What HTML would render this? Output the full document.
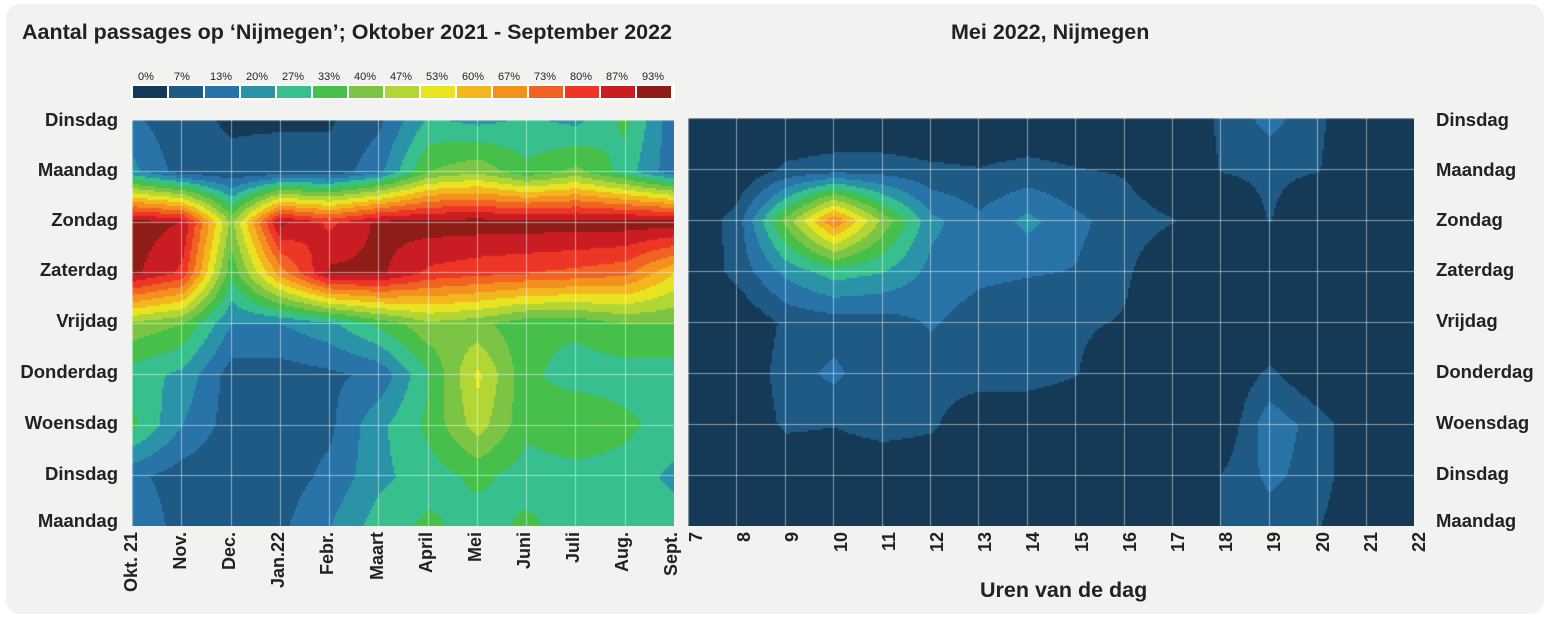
<!DOCTYPE html>
<html><head><meta charset="utf-8"><style>
body{margin:0;width:1548px;height:624px;background:#fff;overflow:hidden;font-family:"Liberation Sans",sans-serif;position:relative}
.panel{position:absolute;left:6px;top:4px;width:1538px;height:610px;background:#f2f2f0;border-radius:14px}
.t{position:absolute;font-weight:bold;color:#222;white-space:nowrap}
.yl{position:absolute;font-weight:bold;font-size:18.5px;color:#222;white-space:nowrap}
.xl{position:absolute;font-weight:bold;font-size:18px;color:#222;white-space:nowrap;transform-origin:0 0}
canvas{position:absolute}
.lg{position:absolute;font-size:11px;color:#222}
</style></head><body>
<div class="panel"></div>
<div class="t" style="left:22px;top:20px;font-size:21.5px">Aantal passages op ‘Nijmegen’; Oktober 2021 - September 2022</div>
<div class="t" style="left:951px;top:20px;font-size:21.5px">Mei 2022, Nijmegen</div>
<div class="t" style="left:980px;top:578px;font-size:21.5px">Uren van de dag</div>
<canvas id="c1" width="542" height="406" style="left:132px;top:120px"></canvas>
<canvas id="c2" width="726" height="408" style="left:688px;top:118px"></canvas>
<div id="lab"></div>
<script>
var cols=["#143a57","#1f5a85","#2873a8","#2a93a8","#37bf8e","#46c04a","#7cc444","#b2d636","#e8e421","#f3b61f","#f3901e","#f06323","#ee3626","#c91d23","#8f1c17"];
var A=[[.15,.08,.06,.06,.06,.12,.28,.25,.28,.25,.35,.15],
[.22,.1,.08,.09,.09,.18,.4,.45,.35,.42,.3,.15],
[.97,.93,.45,.95,.85,.95,.97,.97,.97,.97,.97,.97],
[.95,.85,.35,.7,.95,.95,.85,.82,.8,.78,.75,.6],
[.45,.4,.2,.2,.25,.35,.45,.42,.35,.35,.4,.4],
[.3,.25,.1,.1,.12,.15,.33,.55,.35,.3,.3,.3],
[.35,.2,.1,.1,.12,.25,.35,.5,.35,.4,.35,.3],
[.15,.1,.08,.1,.15,.25,.3,.35,.3,.3,.3,.25],
[.2,.1,.1,.12,.2,.3,.35,.3,.35,.3,.3,.3]];
var B=[[0,0,0,0,0,0,0,0,0,0,0,.08,.16,.08,0,0],
[0,0,.08,.1,.1,.08,.07,.09,.07,.06,0,.07,.08,.07,0,0],
[0,.1,.42,.73,.45,.22,.15,.22,.15,.1,.07,0,.07,0,0,0],
[0,.09,.22,.3,.27,.18,.15,.14,.13,.08,0,0,0,0,0,0],
[0,0,.08,.1,.1,.14,.1,.08,.08,.06,0,0,0,0,0,0],
[0,0,.1,.15,.07,.1,.1,.1,.07,0,0,0,.08,0,0,0],
[0,0,.08,.07,.1,.08,0,0,0,0,0,0,.18,.1,0,0],
[0,0,0,0,0,0,0,0,0,0,0,.07,.15,.1,0,0],
[0,0,0,0,.07,0,0,0,0,0,0,.07,.1,.07,0,0]];
function draw(id,G){var c=document.getElementById(id),x=c.getContext("2d"),W=c.width,H=c.height;
var nr=G.length,nc=G[0].length,rh=H/(nr-1),cw=W/(nc-1);
for(var py=0;py<H;py+=2)for(var px=0;px<W;px+=2){var fx=px/cw,fy=py/rh,i=Math.min(Math.floor(fx),nc-2),j=Math.min(Math.floor(fy),nr-2),u=fx-i,v=fy-j;
var val=G[j][i]*(1-u)*(1-v)+G[j][i+1]*u*(1-v)+G[j+1][i]*(1-u)*v+G[j+1][i+1]*u*v;
var k=Math.max(0,Math.min(14,Math.floor(val*15)));x.fillStyle=cols[k];x.fillRect(px,py,2,2);}
x.strokeStyle="rgba(255,255,255,0.5)";x.lineWidth=1;
for(var i=0;i<nc;i++){x.beginPath();x.moveTo(Math.round(i*cw)+.5,0);x.lineTo(Math.round(i*cw)+.5,H);x.stroke();}
for(var j=0;j<nr;j++){x.beginPath();x.moveTo(0,Math.round(j*rh)+.5);x.lineTo(W,Math.round(j*rh)+.5);x.stroke();}}
draw("c1",A);draw("c2",B);
var h="",days=["Dinsdag","Maandag","Zondag","Zaterdag","Vrijdag","Donderdag","Woensdag","Dinsdag","Maandag"];
var ly=[120,170,220,270,321,372,423,474,521];
for(var i=0;i<9;i++){h+='<div class="yl" style="right:1430px;top:'+(ly[i]-11)+'px">'+days[i]+'</div>';
h+='<div class="yl" style="left:1436px;top:'+(ly[i]-11)+'px">'+days[i]+'</div>';}
var m=["Okt. 21","Nov.","Dec.","Jan.22","Febr.","Maart","April","Mei","Juni","Juli","Aug.","Sept."];
for(var i=0;i<12;i++){var xx=132+i*49.1;h+='<div class="xl" style="left:'+(xx-11)+'px;top:532px;transform:rotate(-90deg) translateX(-100%)">'+m[i]+'</div>';}
for(var i=0;i<16;i++){var xx=697+i*48.2;h+='<div class="xl" style="left:'+(xx-11)+'px;top:532px;transform:rotate(-90deg) translateX(-100%)">'+(7+i)+'</div>';}
var L=["0%","7%","13%","20%","27%","33%","40%","47%","53%","60%","67%","73%","80%","87%","93%"];
h+='<div style="position:absolute;left:131px;top:84px;width:544px;height:16px;background:#fff"></div>';
for(var i=0;i<15;i++){var xx=133+i*36;h+='<div style="position:absolute;left:'+xx+'px;top:86px;width:34px;height:12px;background:'+cols[i]+'"></div><div class="lg" style="left:'+(xx+5)+'px;top:71px">'+L[i]+'</div>';}
document.getElementById("lab").innerHTML=h;
</script>
</body></html>
